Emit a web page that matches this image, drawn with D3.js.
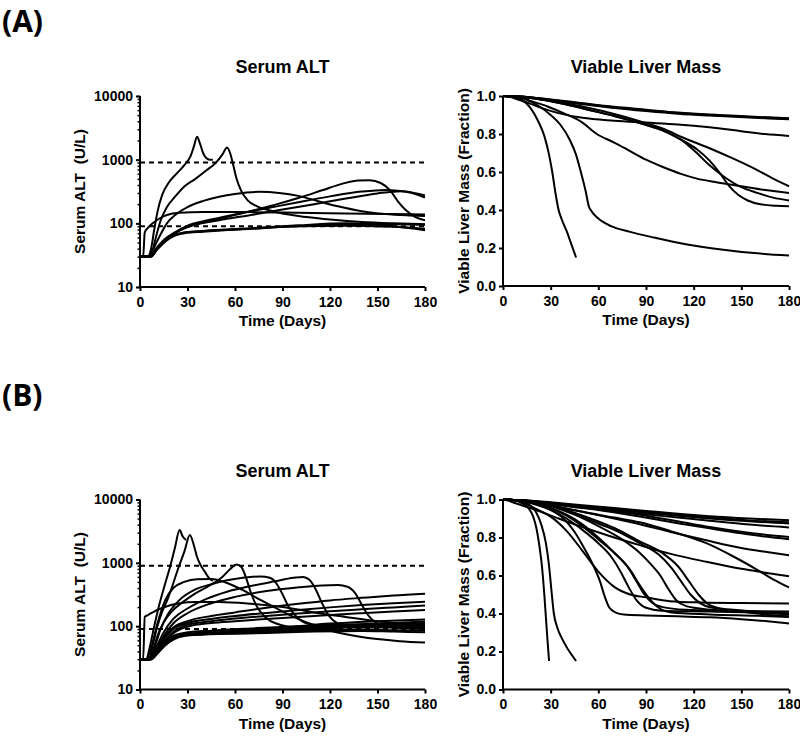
<!DOCTYPE html>
<html>
<head>
<meta charset="utf-8">
<script src="https://cdn.jsdelivr.net/npm/d3@7"></script>
<style>
  body { margin: 0; background: #fff; }
  svg text { font-family: "Liberation Sans", Arial, sans-serif; fill: #000; }
</style>
</head>
<body>
<div id="chart"></div>
<script>
// tick labels
var dayTicks = [0, 30, 60, 90, 120, 150, 180]
var altTicks = [10, 100, 1000, 10000]
var massTicks = [0, 0.2, 0.4, 0.6, 0.8, 1.0]
var altRefs = [90, 900]   // dashed reference lines (U/L)

// (A) serum ALT, one array of [day, U/L] per simulated subject
var altA = [
    [[0,30],[5,30],[7,40],[9,80],[11,150],[14,280],[18,430],[23,600],[28,820],[32,1150],[34,1600],[36,2300],[38,1750],[40,1250],[42,1050],[44,1000],[46,1000]],
    [[0,30],[6,30],[8,38],[10,60],[13,110],[17,180],[22,260],[28,380],[35,500],[42,680],[48,900],[52,1200],[55,1550],[57,1250],[59,800],[61,500],[64,320],[68,230],[74,185],[84,155],[100,130],[120,115],[140,105],[160,100],[180,97]],
    [[0,30],[5,30],[8,38],[12,60],[17,100],[23,140],[30,180],[40,225],[50,262],[60,290],[75,312],[88,300],[100,270],[112,225],[125,185],[140,155],[155,140],[170,133],[180,130]],
    [[0,30],[2,30],[3,72],[5,85],[8,100],[12,118],[17,135],[25,146],[40,150],[70,150],[100,147],[130,143],[160,140],[180,138]],
    [[0,30],[7,30],[11,40],[16,55],[22,70],[30,88],[45,110],[65,145],[85,195],[100,250],[115,330],[128,420],[138,470],[145,475],[152,430],[158,330],[163,220],[168,160],[174,125],[180,112]],
    [[0,30],[6,30],[10,40],[15,55],[22,72],[30,92],[45,115],[60,138],[80,172],[100,215],[120,265],[140,315],[155,335],[168,315],[180,275]],
    [[0,30],[7,30],[11,40],[17,57],[24,75],[33,92],[50,112],[70,135],[90,165],[110,200],[130,245],[150,295],[165,320],[180,255]],
    [[0,30],[6,30],[10,38],[15,50],[20,62],[26,70],[35,74],[60,80],[90,88],[120,94],[150,98],[180,95]],
    [[0,30],[6,30],[10,37],[16,52],[22,64],[28,70],[40,74],[70,82],[100,90],[130,92],[160,88],[180,82]],
    [[0,30],[5,30],[9,36],[14,48],[20,62],[27,71],[40,76],[70,84],[100,93],[130,100],[160,90],[180,78]]
]

// (A) viable liver mass, [day, fraction]
var massA = [
    [[0,1],[8,0.995],[12,0.98],[17,0.94],[22,0.87],[26,0.79],[29,0.69],[31,0.6],[33,0.49],[35,0.4],[37,0.35],[40,0.29],[43,0.22],[46,0.15]],
    [[0,1],[10,0.995],[15,0.98],[22,0.95],[30,0.9],[36,0.85],[42,0.77],[46,0.69],[49,0.6],[52,0.5],[54,0.42],[56,0.39],[60,0.355],[68,0.315],[80,0.285],[95,0.255],[115,0.22],[140,0.19],[160,0.172],[180,0.16]],
    [[0,1],[10,0.995],[17,0.975],[28,0.945],[38,0.91],[50,0.86],[59,0.8],[70,0.755],[80,0.71],[90,0.665],[101,0.625],[112,0.59],[122,0.565],[135,0.545],[150,0.525],[165,0.505],[180,0.49]],
    [[0,1],[5,0.995],[10,0.98],[17,0.96],[25,0.935],[35,0.91],[50,0.885],[70,0.87],[90,0.86],[110,0.85],[130,0.835],[150,0.815],[165,0.8],[180,0.79]],
    [[0,1],[12,0.995],[25,0.98],[40,0.955],[55,0.925],[70,0.895],[85,0.86],[100,0.82],[112,0.77],[122,0.72],[130,0.66],[136,0.6],[142,0.53],[148,0.48],[154,0.45],[162,0.43],[172,0.422],[180,0.42]],
    [[0,1],[12,0.995],[25,0.98],[40,0.955],[55,0.925],[70,0.895],[85,0.86],[100,0.82],[112,0.77],[122,0.7],[130,0.635],[140,0.57],[150,0.52],[160,0.49],[170,0.465],[180,0.45]],
    [[0,1],[12,0.995],[25,0.98],[40,0.96],[55,0.935],[70,0.905],[85,0.87],[100,0.83],[115,0.775],[130,0.725],[145,0.67],[160,0.61],[170,0.565],[180,0.525]],
    [[0,1],[15,0.995],[30,0.98],[50,0.96],[70,0.94],[90,0.925],[110,0.91],[130,0.9],[155,0.89],[180,0.88]],
    [[0,1],[15,0.995],[30,0.982],[50,0.962],[70,0.943],[90,0.928],[110,0.913],[130,0.902],[155,0.892],[180,0.883]],
    [[0,1],[15,0.995],[30,0.978],[50,0.957],[70,0.937],[90,0.921],[110,0.907],[130,0.897],[155,0.887],[180,0.877]]
]

// (B) serum ALT
var altB = [
    [[0,30],[4,30],[6,45],[9,100],[12,210],[16,480],[19,870],[22,1700],[25,3300],[27,2600],[29,2300]],
    [[0,30],[6,30],[8,50],[11,100],[14,170],[17,250],[20,400],[24,800],[28,1500],[31.5,2750],[34,1900],[36,1250],[38,950],[41,720],[44,560],[46,520]],
    [[0,30],[5,30],[8,40],[11,70],[15,115],[20,170],[27,240],[35,330],[44,440],[52,600],[57,800],[61,940],[64,860],[67,580],[70,340],[74,200],[79,140],[86,110],[100,95],[120,95],[150,100],[180,105]],
    [[0,30],[5,30],[9,45],[13,90],[18,160],[25,260],[35,380],[45,460],[55,530],[65,580],[76,610],[82,580],[86,480],[90,320],[94,200],[99,140],[106,110],[120,100],[150,105],[180,110]],
    [[0,30],[6,30],[10,45],[15,80],[21,130],[30,190],[42,270],[55,350],[70,430],[85,510],[97,580],[103,600],[107,540],[111,380],[115,230],[119,150],[125,110],[135,95],[150,95],[180,100]],
    [[0,30],[6,30],[10,42],[15,70],[21,110],[30,160],[45,230],[60,290],[80,360],[100,410],[115,440],[125,445],[131,420],[136,330],[140,220],[144,150],[150,110],[160,95],[180,90]],
    [[0,30],[4,30],[7,45],[11,110],[16,260],[21,400],[28,500],[36,550],[45,555],[55,480],[65,370],[76,260],[97,140],[118,88],[139,68],[164,58],[180,55]],
    [[0,30],[2,30],[3,140],[5,150],[8,165],[12,185],[18,210],[25,230],[35,240],[50,240],[70,225],[90,200],[110,165],[130,140],[150,120],[165,110],[180,105]],
    [[0,30],[6,30],[10,42],[15,65],[21,95],[30,120],[45,145],[60,165],[80,195],[100,225],[120,255],[140,280],[160,305],[180,325]],
    [[0,30],[6,30],[10,40],[15,62],[21,90],[30,112],[45,130],[60,145],[80,162],[100,180],[120,198],[140,215],[160,230],[180,242]],
    [[0,30],[7,30],[11,40],[16,60],[22,85],[30,105],[45,120],[60,132],[80,145],[100,158],[120,172],[140,185],[160,198],[180,212]],
    [[0,30],[7,30],[11,40],[16,58],[22,80],[30,98],[45,112],[60,120],[80,130],[100,140],[120,150],[140,160],[160,170],[180,180]],
    [[0,30],[6,30],[10,37],[15,50],[20,64],[26,72],[35,77],[60,85],[90,95],[120,110],[150,120],[180,128]],
    [[0,30],[6,30],[10,36],[15,49],[21,63],[27,71],[40,76],[70,84],[100,95],[130,105],[160,112],[180,118]],
    [[0,30],[7,30],[11,37],[16,50],[22,63],[28,70],[40,74],[70,80],[100,88],[130,95],[160,105],[180,112]],
    [[0,30],[5,30],[9,36],[14,50],[20,66],[27,74],[40,78],[70,85],[100,92],[130,98],[160,100],[180,100]],
    [[0,30],[6,30],[10,38],[15,54],[21,70],[30,80],[45,85],[70,92],[100,100],[130,105],[160,100],[180,95]],
    [[0,30],[6,30],[10,37],[16,52],[22,66],[30,74],[50,78],[80,82],[110,86],[140,88],[160,86],[180,85]],
    [[0,30],[7,30],[12,40],[18,56],[24,68],[32,73],[50,75],[80,78],[110,82],[140,84],[160,82],[180,80]]
]

// (B) viable liver mass
var massB = [
    [[0,1],[8,0.995],[12,0.98],[16,0.955],[19,0.91],[21,0.85],[23,0.75],[24.5,0.65],[26,0.5],[27,0.38],[28,0.26],[29,0.15]],
    [[0,1],[8,0.995],[13,0.985],[17,0.97],[21,0.93],[24,0.87],[27,0.77],[29,0.65],[30.5,0.52],[32,0.4],[34,0.33],[37,0.27],[41,0.21],[46,0.15]],
    [[0,1],[10,0.995],[20,0.98],[30,0.945],[38,0.9],[45,0.83],[50,0.76],[54,0.7],[57,0.65],[61,0.57],[64,0.49],[67,0.43],[71,0.405],[76,0.395],[90,0.39],[110,0.385],[130,0.38],[150,0.37],[165,0.36],[180,0.348]],
    [[0,1],[8,0.995],[15,0.975],[22,0.945],[30,0.91],[40,0.835],[50,0.73],[60,0.62],[70,0.54],[80,0.5],[90,0.485],[105,0.465],[125,0.458],[150,0.455],[180,0.453]],
    [[0,1],[10,0.995],[20,0.98],[30,0.955],[40,0.92],[50,0.87],[60,0.8],[70,0.72],[78,0.65],[84,0.57],[89,0.5],[94,0.455],[100,0.435],[115,0.42],[140,0.415],[180,0.41]],
    [[0,1],[10,0.995],[20,0.985],[30,0.965],[45,0.92],[60,0.86],[75,0.79],[86,0.72],[93,0.66],[99,0.6],[104,0.53],[109,0.47],[115,0.44],[125,0.425],[150,0.41],[180,0.4]],
    [[0,1],[12,0.995],[25,0.98],[40,0.94],[55,0.89],[70,0.84],[86,0.77],[98,0.71],[106,0.64],[112,0.57],[118,0.5],[124,0.455],[132,0.43],[145,0.42],[165,0.405],[180,0.395]],
    [[0,1],[12,0.995],[25,0.98],[40,0.945],[55,0.9],[70,0.85],[86,0.78],[100,0.72],[110,0.65],[117,0.57],[123,0.5],[129,0.45],[137,0.425],[150,0.41],[165,0.395],[180,0.385]],
    [[0,1],[10,0.995],[20,0.975],[30,0.945],[40,0.9],[50,0.84],[60,0.77],[68,0.7],[74,0.62],[79,0.54],[84,0.47],[90,0.43],[100,0.415],[130,0.41],[160,0.405],[180,0.4]],
    [[0,1],[3,0.995],[8,0.98],[19,0.95],[35,0.9],[50,0.855],[70,0.8],[86,0.76],[105,0.715],[128,0.672],[150,0.635],[165,0.615],[180,0.596]],
    [[0,1],[10,0.995],[20,0.985],[35,0.96],[50,0.935],[70,0.905],[86,0.88],[105,0.835],[128,0.77],[145,0.7],[160,0.63],[170,0.58],[180,0.537]],
    [[0,1],[10,0.995],[20,0.985],[35,0.96],[50,0.935],[70,0.9],[86,0.87],[105,0.83],[128,0.785],[150,0.745],[165,0.725],[180,0.707]],
    [[0,1],[12,0.995],[25,0.985],[40,0.97],[60,0.95],[86,0.92],[110,0.885],[130,0.855],[150,0.83],[165,0.815],[180,0.803]],
    [[0,1],[12,0.995],[25,0.983],[40,0.965],[60,0.945],[86,0.91],[110,0.875],[130,0.848],[150,0.822],[165,0.805],[180,0.791]],
    [[0,1],[15,0.995],[30,0.985],[50,0.97],[70,0.955],[90,0.94],[110,0.925],[130,0.912],[155,0.9],[180,0.891]],
    [[0,1],[15,0.995],[30,0.983],[50,0.966],[70,0.95],[90,0.935],[110,0.92],[130,0.905],[155,0.89],[180,0.88]],
    [[0,1],[15,0.994],[30,0.98],[50,0.962],[70,0.945],[90,0.93],[110,0.915],[130,0.9],[155,0.885],[180,0.874]],
    [[0,1],[15,0.993],[30,0.978],[50,0.958],[70,0.94],[90,0.922],[110,0.905],[130,0.888],[155,0.868],[180,0.853]],
    [[0,1],[10,0.995],[20,0.98],[30,0.955],[40,0.915],[50,0.86],[60,0.79],[70,0.72],[80,0.63],[86,0.55],[92,0.48],[98,0.43],[106,0.405],[130,0.395],[160,0.388],[180,0.382]]
]

var width = 800
var height = 736

var svg = d3.select("#chart")
    .append("svg")
    .attr("width", width)
    .attr("height", height)

// panel letters
svg.append("text").attr("x", 2).attr("y", 32).text("(A)")
    .style("font-family", "'Open Sans', sans-serif").style("font-weight", 700).style("font-size", "30px")
svg.append("text").attr("x", 2).attr("y", 406).text("(B)")
    .style("font-family", "'Open Sans', sans-serif").style("font-weight", 700).style("font-size", "30px")

let drawPanel = (opt) => {
    var x = d3.scaleLinear().domain([0, 180]).range([opt.left, opt.right])
    var y = opt.log
        ? d3.scaleLog().domain([10, 10000]).range([opt.bottom, opt.top])
        : d3.scaleLinear().domain([0, 1]).range([opt.bottom, opt.top])

    var g = svg.append("g")

    // title
    g.append("text")
        .attr("x", (opt.left + opt.right) / 2)
        .attr("y", opt.top - 23)
        .attr("text-anchor", "middle")
        .style("font-weight", "bold")
        .style("font-size", "18px")
        .text(opt.title)

    // minor ticks on the log axis
    if (opt.log) {
        g.append("g")
            .attr("transform", "translate(" + opt.left + ",0)")
            .call(d3.axisLeft(y).tickValues(y.ticks()).tickSize(2.5).tickSizeOuter(0).tickFormat(""))
            .call(a => a.select(".domain").remove())
            .selectAll("line").attr("stroke-width", 1.5)
    }

    var yAxis = d3.axisLeft(y)
        .tickValues(opt.log ? altTicks : massTicks)
        .tickSize(4)
        .tickSizeOuter(0)
        .tickPadding(3)
        .tickFormat(opt.log ? d3.format("d") : d3.format(".1f"))

    var xAxis = d3.axisBottom(x)
        .tickValues(dayTicks)
        .tickSize(4)
        .tickSizeOuter(0)
        .tickPadding(6)

    var ya = g.append("g").attr("transform", "translate(" + opt.left + ",0)").call(yAxis)
    var xa = g.append("g").attr("transform", "translate(0," + opt.bottom + ")").call(xAxis)
    ;[ya, xa].forEach(a => {
        a.select(".domain").attr("stroke-width", 2).attr("stroke", "#000")
        a.selectAll(".tick line").attr("stroke-width", 2).attr("stroke", "#000")
        a.selectAll("text").style("font-family", "'Liberation Sans', Arial, sans-serif")
            .style("font-weight", "bold").style("font-size", "14px").attr("fill", "#000")
    })
    // make the y domain reach the corner with the x axis
    ya.select(".domain").attr("d", "M0," + (opt.bottom + 1) + "V" + opt.top)
    xa.select(".domain").attr("d", "M" + (opt.left - 1) + ",0H" + opt.right)

    // axis labels
    g.append("text")
        .attr("x", (opt.left + opt.right) / 2)
        .attr("y", opt.bottom + 39)
        .attr("text-anchor", "middle")
        .style("font-weight", "bold")
        .style("font-size", "15.5px")
        .text("Time (Days)")
    g.append("text")
        .attr("transform", "translate(" + opt.ylabX + "," + ((opt.top + opt.bottom) / 2) + ") rotate(-90)")
        .attr("text-anchor", "middle")
        .style("font-weight", "bold")
        .style("font-size", "15.5px")
        .style("white-space", "pre")
        .text(opt.ylabel)

    // dashed reference levels
    if (opt.log) {
        g.selectAll(".ref")
            .data(altRefs)
            .enter()
            .append("line")
            .attr("x1", x(0)).attr("x2", x(180))
            .attr("y1", d => y(d)).attr("y2", d => y(d))
            .attr("stroke", "#000")
            .attr("stroke-width", 2)
            .attr("stroke-dasharray", "5,4")
    }

    var line = d3.line()
        .x(d => x(d[0]))
        .y(d => y(d[1]))
        .curve(d3.curveMonotoneX)

    g.selectAll(".curve")
        .data(opt.data)
        .enter()
        .append("path")
        .attr("d", line)
        .attr("fill", "none")
        .attr("stroke", "#000")
        .attr("stroke-width", 2)
        .attr("stroke-linejoin", "round")
}

drawPanel({ data: altA, log: true, left: 140, right: 425, top: 96, bottom: 287, title: "Serum ALT", ylabel: "Serum ALT  (U/L)", ylabX: 85 })
drawPanel({ data: massA, log: false, left: 503, right: 789, top: 96, bottom: 286, title: "Viable Liver Mass", ylabel: "Viable Liver Mass (Fraction)", ylabX: 469 })
drawPanel({ data: altB, log: true, left: 140, right: 425, top: 499.5, bottom: 689.5, title: "Serum ALT", ylabel: "Serum ALT  (U/L)", ylabX: 85 })
drawPanel({ data: massB, log: false, left: 503, right: 789, top: 499.5, bottom: 689.5, title: "Viable Liver Mass", ylabel: "Viable Liver Mass (Fraction)", ylabX: 469 })
</script>
</body>
</html>
